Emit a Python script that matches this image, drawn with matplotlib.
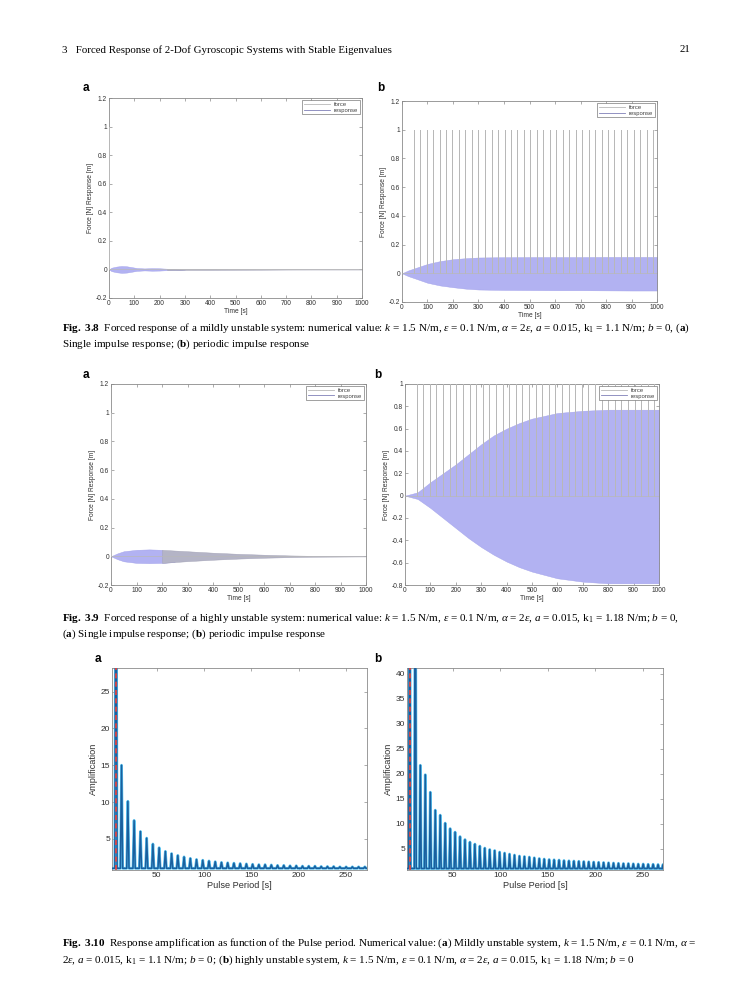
import numpy as np
import matplotlib
matplotlib.use("Agg")
import matplotlib.pyplot as plt
from matplotlib.lines import Line2D

plt.rcParams['font.family'] = ['Liberation Sans', 'DejaVu Sans']
plt.rcParams['mathtext.fontset'] = 'custom'
plt.rcParams['mathtext.rm'] = 'Liberation Serif'
plt.rcParams['mathtext.it'] = 'Liberation Serif:italic'
plt.rcParams['mathtext.bf'] = 'Liberation Serif:bold'

## Data
# =============================== Fig 3.8 (mildly unstable)
t_env_38a = [0, 10, 30, 50, 70, 90, 110, 140, 170, 200, 230, 300, 400, 500, 600, 700, 800, 1000]
up_38a = [0, 0.012, 0.02, 0.024, 0.022, 0.016, 0.01, 0.007, 0.009, 0.008, 0.005, 0.004, 0.004, 0.003, 0.002, 0.001, 0.0005, 0]
lo_38a = [0, -0.012, -0.02, -0.024, -0.022, -0.016, -0.01, -0.007, -0.009, -0.008, -0.005, -0.004, -0.004, -0.003, -0.002, -0.001, -0.0005, 0]
force_38a = [0]

t_env_38b = [0, 25, 50, 100, 150, 200, 250, 300, 400, 500, 600, 700, 800, 900, 1000]
up_38b = [0, 0.02, 0.035, 0.065, 0.085, 0.098, 0.105, 0.11, 0.112, 0.113, 0.113, 0.113, 0.114, 0.114, 0.114]
lo_38b = [0, -0.02, -0.035, -0.066, -0.085, -0.097, -0.107, -0.113, -0.116, -0.117, -0.118, -0.118, -0.119, -0.12, -0.12]
force_38b = [46, 71, 97, 122, 148, 173, 198, 224, 249, 275, 300, 325, 351, 376, 402, 427, 452, 478, 503,
             529, 554, 579, 605, 630, 656, 681, 706, 732, 757, 783, 808, 833, 859, 884, 910, 935, 960, 986]

# =============================== Fig 3.9 (highly unstable)
t_env_39a = [0, 25, 50, 100, 150, 200, 250, 300, 400, 500, 600, 700, 800, 900, 1000]
up_39a = [0, 0.02, 0.035, 0.045, 0.048, 0.045, 0.04, 0.035, 0.025, 0.017, 0.011, 0.006, 0.003, 0.002, 0.001]
lo_39a = [0, -0.02, -0.035, -0.046, -0.048, -0.046, -0.04, -0.034, -0.024, -0.016, -0.01, -0.006, -0.003, -0.002, -0.001]
force_39a = [0]

t_env_39b = [0, 50, 100, 150, 200, 250, 300, 350, 400, 450, 500, 600, 700, 800, 900, 1000]
up_39b = [0, 0.03, 0.12, 0.2, 0.28, 0.37, 0.46, 0.54, 0.6, 0.65, 0.69, 0.74, 0.76, 0.77, 0.77, 0.77]
lo_39b = [0, -0.03, -0.11, -0.2, -0.29, -0.38, -0.46, -0.53, -0.59, -0.64, -0.68, -0.74, -0.77, -0.785, -0.785, -0.785]
force_39b = [46, 72, 98, 124, 150, 176, 202, 228, 254, 280, 306, 332, 358, 384, 410, 436, 462, 488, 514,
             540, 566, 592, 618, 644, 670, 696, 722, 748, 774, 800, 826, 852, 878, 904, 930, 956, 982]

# =============================== Fig 3.10 amplification peaks
period_a = [6.7, 12.6, 19.3, 25.9, 32.6, 39.2, 45.8, 52.4, 59.0, 65.6, 72.2, 78.8, 85.4, 92.0, 98.6,
            105.2, 111.8, 118.4, 125.0, 131.6, 138.2, 144.8, 151.4, 158.0, 164.6, 171.2, 177.8, 184.4,
            191.0, 197.6, 204.2, 210.8, 217.4, 224.0, 230.6, 237.2, 243.8, 250.4, 257.0, 263.6, 270.2]
ampl_a = [60, 15.0, 10.1, 7.5, 6.0, 5.1, 4.3, 3.8, 3.3, 3.0, 2.75, 2.55, 2.35, 2.2, 2.1,
          2.0, 1.9, 1.8, 1.75, 1.7, 1.65, 1.6, 1.55, 1.5, 1.5, 1.45, 1.4, 1.4,
          1.35, 1.35, 1.3, 1.3, 1.3, 1.25, 1.25, 1.25, 1.2, 1.2, 1.2, 1.2, 1.2]

period_b = [4.9, 10.8, 16.1, 21.3, 26.6, 31.8, 37.0, 42.2, 47.4, 52.6, 57.8, 63.0, 68.2, 73.4, 78.6,
            83.8, 89.0, 94.2, 99.4, 104.6, 109.8, 115.0, 120.2, 125.4, 130.6, 135.8, 141.0, 146.2,
            151.4, 156.6, 161.8, 167.0, 172.2, 177.4, 182.6, 187.8, 193.0, 198.2, 203.4, 208.6,
            213.8, 219.0, 224.2, 229.4, 234.6, 239.8, 245.0, 250.2, 255.4, 260.6, 265.8, 271.0]
ampl_b = [80, 80, 21.7, 19.8, 16.3, 12.7, 11.7, 10.1, 9.0, 8.3, 7.4, 6.8, 6.3, 5.9, 5.5,
          5.1, 4.8, 4.6, 4.3, 4.1, 3.9, 3.7, 3.5, 3.4, 3.3, 3.15, 3.0, 2.9,
          2.8, 2.75, 2.7, 2.6, 2.55, 2.5, 2.45, 2.4, 2.35, 2.3, 2.25, 2.2,
          2.15, 2.1, 2.05, 2.0, 2.0, 1.95, 1.9, 1.9, 1.85, 1.85, 1.8, 1.8]
base_ampl = 1.0

time_ticks = [0, 100, 200, 300, 400, 500, 600, 700, 800, 900, 1000]
period_ticks = [50, 100, 150, 200, 250]

W, H = 752, 1000
fig = plt.figure(figsize=(7.52, 10), dpi=100)


def box(l, t, r, b):
    return [l / W, 1 - b / H, (r - l) / W, (b - t) / H]


def matlab_axes(ax, fs):
    for s in ax.spines.values():
        s.set_color('#8a8a8a')
        s.set_linewidth(0.6)
    ax.tick_params(direction='in', top=True, right=True, length=2.2, width=0.5,
                   colors='#8a8a8a', labelcolor='#303030', labelsize=fs, pad=1.5)


def fmt(v):
    return "%g" % round(v, 2)


def response_panel(rect, t_env, up, lo, pulses, ylim, yticks, split=None):
    ax = fig.add_axes(rect)
    t_env = np.array(t_env)
    band = '#b2b2f2'
    if split is None:
        ax.fill_between(t_env, lo, up, color=band, lw=0.3, edgecolor='#a0a0ea', zorder=2)
    else:
        ax.fill_between(t_env, lo, up, where=t_env <= split, color=band, lw=0.3,
                        edgecolor='#a0a0ea', zorder=2, interpolate=True)
        ax.fill_between(t_env, lo, up, where=t_env >= split, color='#b4b4c6', lw=0.3,
                        edgecolor='#a0a0b4', zorder=2, interpolate=True)
    # force signal: zero with unit impulses
    fx, fy = [0], [0]
    for p in pulses:
        fx += [p, p, p]
        fy += [0, 1, 0]
    fx.append(1000)
    fy.append(0)
    ax.plot(fx, fy, color='#b8b8b8', lw=0.5, zorder=3)
    ax.set_xlim(0, 1000)
    ax.set_ylim(*ylim)
    ax.set_xticks(time_ticks)
    ax.set_yticks(yticks)
    ax.set_yticklabels([fmt(v) for v in yticks])
    matlab_axes(ax, 4.8)
    ax.set_xlabel("Time [s]", fontsize=4.8, color='#303030', labelpad=0.5)
    ax.set_ylabel("Force [N] Response [m]", fontsize=4.8, color='#303030', labelpad=1)
    handles = [Line2D([], [], color='#b8b8b8', lw=0.6), Line2D([], [], color='#8080b8', lw=0.6)]
    leg = ax.legend(handles, ["force", "response"], loc='upper right', fontsize=4.2,
                    frameon=True, fancybox=False, handlelength=4.5, borderpad=0.3,
                    labelspacing=0.05, borderaxespad=0.4, handletextpad=0.6, framealpha=1)
    leg.get_frame().set_edgecolor('#7a7a7a')
    leg.get_frame().set_linewidth(0.5)
    for tx in leg.get_texts():
        tx.set_color('#404040')
    return ax


def spike_curve(periods, heights, hw):
    xs, ys = [], []
    for p, h in zip(periods, heights):
        xs += [p - hw, p, p + hw]
        ys += [base_ampl, h, base_ampl]
    return xs, ys


def ampl_panel(rect, periods, heights, hw, xlim, ylim, yticks):
    ax = fig.add_axes(rect)
    xs, ys = spike_curve(periods, heights, hw)
    xs = [xlim[0]] + xs + [xlim[1]]
    ys = [base_ampl] + ys + [base_ampl]
    ax.plot(xs, ys, color='#5cc4f0', lw=2.0, zorder=2)
    ax.plot(xs, ys, color='#1a5f9e', lw=1.1, zorder=3)
    ax.axvline(periods[0], color='#e8413c', lw=1.2, ls=(0, (3, 2)), zorder=4)
    ax.set_xlim(*xlim)
    ax.set_ylim(*ylim)
    ax.set_xticks(period_ticks)
    ax.set_yticks(yticks)
    matlab_axes(ax, 6)
    ax.set_xlabel("Pulse Period [s]", fontsize=6.6, color='#303030', labelpad=1.5)
    ax.set_ylabel("Amplification", fontsize=6.6, color='#303030', labelpad=2)
    return ax


# Fig 3.8
response_panel(box(109, 98, 362, 298), t_env_38a, up_38a, lo_38a, force_38a, (-0.2, 1.2),
               [-0.2, 0, 0.2, 0.4, 0.6, 0.8, 1, 1.2], split=230)
response_panel(box(402, 101, 657, 302), t_env_38b, up_38b, lo_38b, force_38b, (-0.2, 1.2),
               [-0.2, 0, 0.2, 0.4, 0.6, 0.8, 1, 1.2])
# Fig 3.9
response_panel(box(111, 384, 366, 585), t_env_39a, up_39a, lo_39a, force_39a, (-0.2, 1.2),
               [-0.2, 0, 0.2, 0.4, 0.6, 0.8, 1, 1.2], split=200)
response_panel(box(405, 384, 659, 585), t_env_39b, up_39b, lo_39b, force_39b, (-0.8, 1.0),
               [-0.8, -0.6, -0.4, -0.2, 0, 0.2, 0.4, 0.6, 0.8, 1])
# Fig 3.10
ampl_panel(box(112, 668, 367, 870), period_a, ampl_a, 1.2, (2.5, 272.5), (0.77, 28.2),
           [5, 10, 15, 20, 25])
ampl_panel(box(407, 668, 663, 870), period_b, ampl_b, 1.0, (2.1, 271.0), (0.7, 41.2),
           [5, 10, 15, 20, 25, 30, 35, 40])

# panel letters
for x, y, s in [(83, 88, 'a'), (377, 88, 'b'), (83, 375, 'a'), (374, 375, 'b'),
                (95, 659, 'a'), (374, 659, 'b')]:
    fig.text(x / W, 1 - y / H, s, fontsize=8.5, fontweight='bold', va='center', ha='left')

# running header
serif = ['Liberation Serif', 'DejaVu Serif']
fig.text(62 / W, 1 - 50 / H, "3   Forced Response of 2-Dof Gyroscopic Systems with Stable Eigenvalues",
         family=serif, fontsize=7.8, va='center')
fig.text(690 / W, 1 - 50 / H, "21", family=serif, fontsize=7.8, va='center', ha='right')

cap_fs = 8.0
captions = [
    (328, r"$\mathbf{Fig.\ 3.8}$  Forced response of a mildly unstable system: numerical value: $k$ = 1.5 N/m, "
          r"$\varepsilon$ = 0.1 N/m, $\alpha$ = 2$\varepsilon$, $a$ = 0.015, k$_1$ = 1.1 N/m; $b$ = 0, ($\mathbf{a}$)"),
    (344, r"Single impulse response; ($\mathbf{b}$) periodic impulse response"),
    (618, r"$\mathbf{Fig.\ 3.9}$  Forced response of a highly unstable system: numerical value: $k$ = 1.5 N/m, "
          r"$\varepsilon$ = 0.1 N/m, $\alpha$ = 2$\varepsilon$, $a$ = 0.015, k$_1$ = 1.18 N/m; $b$ = 0,"),
    (634, r"($\mathbf{a}$) Single impulse response; ($\mathbf{b}$) periodic impulse response"),
    (943, r"$\mathbf{Fig.\ 3.10}$  Response amplification as function of the Pulse period. Numerical value: "
          r"($\mathbf{a}$) Mildly unstable system, $k$ = 1.5 N/m, $\varepsilon$ = 0.1 N/m, $\alpha$ ="),
    (960, r"2$\varepsilon$, $a$ = 0.015, k$_1$ = 1.1 N/m; $b$ = 0; ($\mathbf{b}$) highly unstable system, "
          r"$k$ = 1.5 N/m, $\varepsilon$ = 0.1 N/m, $\alpha$ = 2$\varepsilon$, $a$ = 0.015, k$_1$ = 1.18 N/m; $b$ = 0"),
]
for y, s in captions:
    fig.text(62 / W, 1 - y / H, s, family=serif, fontsize=cap_fs, va='center', ha='left')

fig.savefig("out.png", dpi=100)
